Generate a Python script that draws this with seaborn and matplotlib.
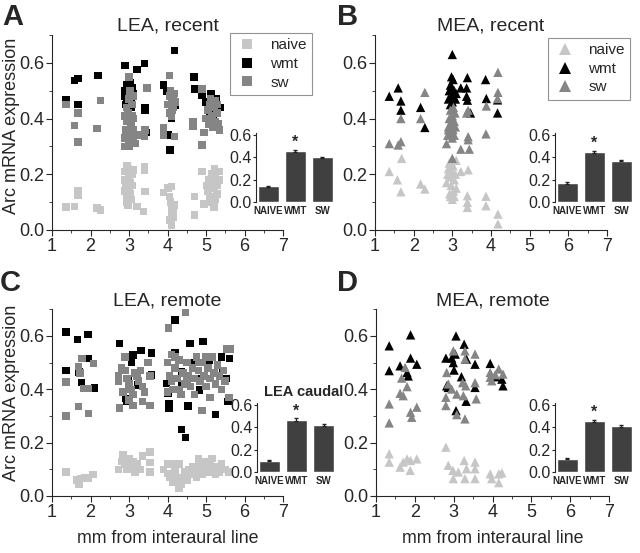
import numpy as np
import pandas as pd
import matplotlib
matplotlib.use('Agg')
import matplotlib.pyplot as plt
import seaborn as sns
from matplotlib.ticker import MultipleLocator

# ---- panel A: LEA, recent (squares) ----
a_naive_x = [1.36, 1.58, 1.67, 1.67, 2.17, 2.26, 2.88, 2.9, 2.92, 2.9, 2.93, 2.95, 2.98, 3.0, 3.02, 3.0, 3.03, 3.05,
             2.97, 3.08, 3.1, 3.07, 2.95, 3.2, 3.38, 3.4, 3.4, 3.42, 3.9, 4.02, 4.1, 4.05, 4.08, 4.12, 4.15, 4.18,
             4.1, 4.05, 4.1, 4.15, 4.7, 4.7, 4.94, 4.9, 5.02, 5.05, 5.08, 5.1, 5.15, 5.18, 5.2, 5.22, 5.25, 5.28,
             5.3, 5.33, 5.12, 5.2, 5.25, 5.35]
a_naive_y = [0.082, 0.084, 0.126, 0.142, 0.078, 0.072, 0.21, 0.18, 0.16, 0.14, 0.12, 0.10, 0.22, 0.19, 0.17, 0.15, 0.13, 0.11,
             0.09, 0.20, 0.216, 0.16, 0.23, 0.084, 0.066, 0.228, 0.214, 0.138, 0.134, 0.15, 0.156, 0.12, 0.10, 0.08, 0.065, 0.09,
             0.05, 0.036, 0.018, 0.045, 0.054, 0.12, 0.094, 0.21, 0.16, 0.14, 0.18, 0.12, 0.20, 0.17, 0.15, 0.22, 0.19, 0.13,
             0.16, 0.21, 0.10, 0.082, 0.11, 0.18]
a_wmt_x = [1.36, 1.58, 1.67, 1.67, 2.19, 2.9, 3.2, 3.4, 2.88, 2.9, 2.93, 2.95, 2.97, 3.0, 3.02, 3.05, 3.08, 3.1, 3.05, 2.92,
           3.42, 3.42, 3.45, 3.9, 3.98, 4.18, 4.1, 4.2, 4.1, 4.03, 4.06, 4.68, 4.7, 4.9, 5.13, 5.27, 5.37, 5.19, 5.0, 5.1]
a_wmt_y = [0.468, 0.537, 0.544, 0.45, 0.555, 0.59, 0.576, 0.598, 0.50, 0.48, 0.52, 0.46, 0.43, 0.50, 0.53, 0.47, 0.51, 0.49, 0.44, 0.45,
           0.44, 0.43, 0.35, 0.52, 0.50, 0.645, 0.49, 0.447, 0.40, 0.342, 0.288, 0.55, 0.507, 0.484, 0.49, 0.47, 0.44, 0.40, 0.46, 0.42]
a_sw_x = [1.36, 1.67, 1.58, 1.67, 2.26, 2.17, 3.0, 3.46, 3.42, 3.4, 3.2, 2.88, 2.9, 2.92, 2.95, 2.97, 3.0, 3.02, 3.05, 3.07,
          3.08, 3.1, 2.9, 2.93, 3.0, 3.03, 3.12, 3.15, 3.0, 3.05, 3.1, 2.95, 3.12, 3.3, 4.05, 3.9, 3.9, 4.18, 4.0, 4.05,
          4.08, 4.1, 4.12, 4.15, 4.18, 4.05, 4.1, 4.15, 4.2, 4.66, 4.66, 4.9, 4.9, 4.94, 5.0, 5.05, 5.08, 5.1, 5.15, 5.18,
          5.2, 5.22, 5.25, 5.28, 5.3, 5.32, 5.35, 5.12, 5.25]
a_sw_y = [0.45, 0.42, 0.375, 0.315, 0.465, 0.364, 0.55, 0.51, 0.36, 0.336, 0.34, 0.30, 0.33, 0.36, 0.39, 0.42, 0.32, 0.35, 0.38, 0.41,
          0.45, 0.48, 0.41, 0.44, 0.47, 0.50, 0.33, 0.31, 0.30, 0.33, 0.36, 0.34, 0.40, 0.34, 0.555, 0.366, 0.34, 0.336, 0.45, 0.48,
          0.50, 0.46, 0.43, 0.47, 0.49, 0.42, 0.41, 0.44, 0.46, 0.39, 0.372, 0.506, 0.306, 0.35, 0.40, 0.43, 0.38, 0.45, 0.41, 0.37,
          0.44, 0.46, 0.39, 0.42, 0.45, 0.38, 0.36, 0.47, 0.465]

# ---- panel B: MEA, recent (triangles) ----
b_naive_x = [1.37, 1.58, 1.69, 1.67, 2.18, 2.29, 2.85, 2.88, 2.9, 2.92, 2.95, 2.97, 3.0, 3.02, 3.05, 3.08, 3.1, 2.93,
             2.95, 3.0, 3.05, 3.1, 2.98, 3.03, 3.22, 3.41, 3.39, 3.39, 3.39, 3.87, 3.87, 4.18, 4.18]
b_naive_y = [0.21, 0.18, 0.257, 0.137, 0.165, 0.147, 0.17, 0.20, 0.22, 0.24, 0.19, 0.16, 0.21, 0.23, 0.18, 0.20, 0.15, 0.13,
             0.12, 0.11, 0.12, 0.25, 0.25, 0.14, 0.21, 0.216, 0.123, 0.099, 0.081, 0.121, 0.087, 0.057, 0.022]
b_wmt_x = [1.37, 1.6, 1.67, 1.67, 2.18, 2.29, 3.0, 2.98, 2.9, 2.92, 2.95, 2.97, 3.0, 3.02, 3.05, 3.08, 3.0, 2.95, 3.1,
           3.22, 3.37, 3.39, 3.37, 3.39, 3.47, 3.86, 3.88, 4.17, 4.17]
b_wmt_y = [0.48, 0.51, 0.463, 0.43, 0.44, 0.368, 0.63, 0.55, 0.47, 0.50, 0.52, 0.48, 0.46, 0.54, 0.50, 0.47, 0.51, 0.45, 0.49,
           0.51, 0.51, 0.547, 0.48, 0.466, 0.42, 0.54, 0.472, 0.467, 0.42]
b_sw_x = [1.37, 1.6, 1.67, 1.67, 2.29, 2.18, 3.0, 2.85, 2.88, 2.9, 2.92, 2.95, 2.97, 3.0, 3.02, 3.05, 3.07, 3.0, 2.95,
          3.03, 2.9, 3.08, 2.98, 3.0, 3.05, 3.37, 3.41, 3.41, 3.41, 3.44, 3.22, 3.88, 3.87, 4.18, 4.18, 4.17]
b_sw_y = [0.31, 0.305, 0.317, 0.40, 0.494, 0.40, 0.257, 0.31, 0.34, 0.37, 0.40, 0.35, 0.38, 0.41, 0.36, 0.39, 0.42, 0.33, 0.43,
          0.44, 0.36, 0.37, 0.39, 0.37, 0.34, 0.42, 0.43, 0.335, 0.324, 0.29, 0.29, 0.445, 0.345, 0.566, 0.494, 0.472]

# ---- panel C: LEA, remote (squares) ----
c_naive_x = [1.36, 1.65, 1.7, 1.75, 1.85, 2.07, 1.95, 2.73, 2.8, 2.85, 2.9, 2.95, 3.0, 3.05, 3.1, 3.15, 3.2, 3.3, 3.35,
             3.55, 3.55, 3.55, 3.9, 4.0, 4.05, 4.1, 4.15, 4.2, 4.3, 4.35, 4.4, 4.45, 4.5, 4.55, 4.6, 4.65, 4.7, 4.75,
             4.8, 4.85, 4.9, 4.95, 5.0, 5.05, 5.1, 5.15, 5.2, 5.25, 5.3, 5.35, 5.4, 5.5, 5.6, 4.8, 4.3, 4.0, 4.2]
c_naive_y = [0.09, 0.06, 0.045, 0.065, 0.07, 0.08, 0.065, 0.10, 0.13, 0.155, 0.12, 0.10, 0.14, 0.11, 0.13, 0.09, 0.12, 0.10, 0.15,
             0.165, 0.09, 0.125, 0.10, 0.085, 0.07, 0.12, 0.05, 0.06, 0.03, 0.045, 0.07, 0.09, 0.06, 0.10, 0.08, 0.11, 0.09, 0.07,
             0.12, 0.10, 0.08, 0.13, 0.11, 0.09, 0.12, 0.14, 0.10, 0.08, 0.11, 0.09, 0.12, 0.10, 0.09, 0.14, 0.12, 0.12, 0.09]
c_wmt_x = [1.36, 1.66, 1.94, 1.36, 1.7, 1.94, 1.77, 2.1, 2.75, 3.11, 3.31, 3.58, 3.06, 2.99, 2.92, 3.24, 3.58, 2.93, 3.97,
           4.01, 4.04, 4.04, 4.19, 4.36, 4.36, 4.47, 4.19, 4.58, 4.92, 4.66, 5.09, 4.75, 4.83, 4.53, 5.25, 5.4, 5.44,
           5.61, 5.57, 5.53, 4.36]
c_wmt_y = [0.614, 0.587, 0.606, 0.47, 0.464, 0.516, 0.426, 0.404, 0.572, 0.529, 0.545, 0.535, 0.50, 0.441, 0.366, 0.416, 0.454, 0.354, 0.422,
           0.385, 0.347, 0.329, 0.66, 0.464, 0.25, 0.22, 0.535, 0.572, 0.579, 0.50, 0.51, 0.441, 0.397, 0.337, 0.306, 0.52, 0.47,
           0.516, 0.354, 0.441, 0.422]
c_sw_x = [1.78, 1.69, 1.73, 1.82, 1.95, 2.08, 1.69, 1.95, 1.36, 1.36, 2.73, 2.73, 2.8, 2.9, 2.95, 3.0, 3.05, 3.1, 3.15,
          3.2, 3.25, 3.3, 3.35, 3.4, 3.0, 2.85, 3.1, 3.55, 3.35, 2.75, 3.55, 3.5, 2.9, 4.0, 4.05, 4.1, 4.15, 4.2, 4.25,
          4.3, 4.35, 4.4, 4.45, 4.5, 4.55, 4.6, 4.65, 4.7, 4.75, 4.8, 4.85, 4.9, 4.95, 5.0, 5.05, 5.1, 5.15, 5.2, 5.25,
          5.3, 5.35, 5.4, 5.45, 5.5, 5.55, 5.6, 5.62, 4.0, 4.1, 4.3, 4.5, 4.8, 5.0, 4.7, 5.1, 4.9, 4.2, 4.03, 4.47]
c_sw_y = [0.515, 0.485, 0.46, 0.403, 0.403, 0.497, 0.335, 0.31, 0.428, 0.30, 0.45, 0.43, 0.48, 0.47, 0.44, 0.42, 0.40, 0.38, 0.46,
          0.45, 0.43, 0.47, 0.41, 0.39, 0.36, 0.39, 0.34, 0.34, 0.355, 0.33, 0.45, 0.50, 0.52, 0.50, 0.45, 0.53, 0.40, 0.48, 0.44,
          0.51, 0.38, 0.46, 0.42, 0.50, 0.45, 0.41, 0.48, 0.44, 0.52, 0.47, 0.43, 0.50, 0.45, 0.41, 0.48, 0.44, 0.52, 0.46, 0.42,
          0.49, 0.45, 0.40, 0.47, 0.43, 0.55, 0.37, 0.55, 0.39, 0.43, 0.40, 0.43, 0.50, 0.52, 0.38, 0.37, 0.32, 0.52, 0.63, 0.69]

# ---- panel D: MEA, remote (triangles) ----
d_naive_x = [1.34, 1.34, 1.62, 1.7, 1.8, 1.88, 2.05, 1.89, 2.8, 2.86, 2.98, 2.99, 3.12, 3.27, 3.29, 3.33, 3.55, 3.55,
             3.55, 3.94, 3.98, 4.16, 4.24, 4.16]
d_naive_y = [0.158, 0.127, 0.108, 0.127, 0.139, 0.096, 0.139, 0.133, 0.183, 0.115, 0.096, 0.065, 0.09, 0.133, 0.065, 0.102, 0.127, 0.102,
             0.065, 0.083, 0.065, 0.083, 0.087, 0.05]
d_wmt_x = [1.34, 1.34, 1.89, 1.89, 2.05, 1.62, 1.8, 1.83, 3.06, 3.27, 2.8, 2.95, 3.04, 2.99, 3.01, 3.33, 3.2, 2.82, 2.86,
           3.55, 3.55, 3.32, 3.06, 3.94, 4.07, 4.27, 4.24]
d_wmt_y = [0.563, 0.47, 0.604, 0.517, 0.494, 0.488, 0.463, 0.45, 0.60, 0.569, 0.517, 0.517, 0.532, 0.50, 0.472, 0.513, 0.447, 0.413, 0.407,
           0.494, 0.407, 0.355, 0.32, 0.497, 0.447, 0.413, 0.438]
d_sw_x = [1.34, 1.34, 1.66, 1.75, 1.62, 1.8, 1.7, 1.89, 1.92, 2.05, 2.82, 2.8, 2.8, 2.86, 2.95, 3.08, 2.99, 3.29, 3.29,
          3.23, 3.31, 3.25, 3.29, 3.08, 3.55, 3.55, 3.58, 3.94, 3.94, 4.16, 4.27, 4.07, 3.98]
d_sw_y = [0.345, 0.274, 0.442, 0.482, 0.385, 0.41, 0.376, 0.314, 0.295, 0.333, 0.463, 0.37, 0.339, 0.42, 0.401, 0.382, 0.544, 0.544, 0.513,
          0.425, 0.413, 0.376, 0.289, 0.305, 0.532, 0.425, 0.364, 0.445, 0.463, 0.476, 0.457, 0.455, 0.432]

# ---- inset bar charts ----
bar_labels = ['NAIVE', 'WMT', 'SW']
a_bars = [0.14, 0.46, 0.40]
b_bars = [0.17, 0.45, 0.37]
c_bars = [0.10, 0.47, 0.42]
d_bars = [0.12, 0.46, 0.41]
a_err = [0.006, 0.010, 0.006]
b_err = [0.006, 0.010, 0.005]
c_err = [0.005, 0.009, 0.006]
d_err = [0.005, 0.010, 0.007]

groups = ['naive', 'wmt', 'sw']
palette = {'naive': '#c6c6c6', 'wmt': '#000000', 'sw': '#858585'}
bar_color = '#404040'

sns.set_style('ticks')
plt.rcParams['font.family'] = ['Liberation Sans', 'DejaVu Sans']


def make_frame(nx, ny, wx, wy, sx, sy):
    parts = []
    for g, xs, ys in zip(groups, [nx, wx, sx], [ny, wy, sy]):
        parts.append(pd.DataFrame({'mm': xs, 'arc': ys, 'group': g}))
    return pd.concat(parts, ignore_index=True)


def scatter_panel(ax, df, marker, size, title, legend, leg_anchor=None):
    sns.scatterplot(data=df, x='mm', y='arc', hue='group', hue_order=groups, palette=palette,
                    marker=marker, s=size, linewidth=0, ax=ax, legend=legend)
    ax.set_xlim(1, 7)
    ax.set_ylim(0, 0.7)
    ax.xaxis.set_major_locator(MultipleLocator(1))
    ax.xaxis.set_minor_locator(MultipleLocator(0.5))
    ax.yaxis.set_major_locator(MultipleLocator(0.2))
    ax.yaxis.set_minor_locator(MultipleLocator(0.1))
    ax.yaxis.set_major_formatter(matplotlib.ticker.FormatStrFormatter('%.1f'))
    ax.tick_params(which='major', direction='out', length=4, labelsize=13, pad=1.5)
    ax.tick_params(which='minor', direction='out', length=2.5)
    ax.set_xlabel('')
    ax.set_ylabel('')
    ax.set_title(title, fontsize=14, pad=3)
    sns.despine(ax=ax)
    if legend:
        sns.move_legend(ax, 'upper right', bbox_to_anchor=leg_anchor, title=None, frameon=True,
                        fontsize=11, fancybox=False, edgecolor='#777777', borderpad=0.35,
                        borderaxespad=0, labelspacing=0.3, handletextpad=0.7, handlelength=1.6,
                        markerscale=1.2)
        ax.get_legend().get_frame().set_linewidth(0.8)


def inset_bars(rect, vals, errs, caption=None):
    ins = fig.add_axes(rect)
    ins.patch.set_alpha(0)
    sns.barplot(x=bar_labels, y=vals, color=bar_color, saturation=1, width=0.8, ax=ins, errorbar=None)
    ins.errorbar(range(3), vals, yerr=errs, fmt='none', ecolor='#222222', elinewidth=0.8, capsize=1.2)
    ins.text(1, vals[1] + 0.01, '*', ha='center', va='bottom', fontsize=11.5, fontweight='bold')
    ins.set_xlim(-0.46, 2.5)
    ins.set_ylim(0, 0.62)
    ins.set_yticks([0.0, 0.2, 0.4, 0.6])
    ins.yaxis.set_major_formatter(matplotlib.ticker.FormatStrFormatter('%.1f'))
    ins.tick_params(axis='y', direction='out', length=2, labelsize=11.5, pad=1)
    ins.tick_params(axis='x', length=0, labelsize=7, pad=3)
    for lab in ins.get_xticklabels():
        lab.set_fontweight('bold')
    sns.despine(ax=ins, bottom=True)
    if caption:
        ins.text(0.09, 1.15, caption, transform=ins.transAxes, ha='left', va='center',
                 fontsize=10.5, fontweight='bold')
    return ins


fig = plt.figure(figsize=(6.4, 5.53), dpi=100)
ax_a = fig.add_axes([0.0813, 0.5841, 0.3609, 0.3526])
ax_b = fig.add_axes([0.5859, 0.5841, 0.3625, 0.3526])
ax_c = fig.add_axes([0.0813, 0.1031, 0.3609, 0.3376])
ax_d = fig.add_axes([0.5875, 0.1031, 0.3641, 0.3376])

scatter_panel(ax_a, make_frame(a_naive_x, a_naive_y, a_wmt_x, a_wmt_y, a_sw_x, a_sw_y), 's', 30,
              'LEA, recent', True, (1.126, 1.01))
scatter_panel(ax_b, make_frame(b_naive_x, b_naive_y, b_wmt_x, b_wmt_y, b_sw_x, b_sw_y), '^', 45,
              'MEA, recent', True, (1.099, 0.985))
scatter_panel(ax_c, make_frame(c_naive_x, c_naive_y, c_wmt_x, c_wmt_y, c_sw_x, c_sw_y), 's', 30,
              'LEA, remote', False)
scatter_panel(ax_d, make_frame(d_naive_x, d_naive_y, d_wmt_x, d_wmt_y, d_sw_x, d_sw_y), '^', 45,
              'MEA, remote', False)

ax_a.set_ylabel('Arc mRNA expression', fontsize=13)
ax_a.yaxis.set_label_coords(-0.137, 0.533)
ax_c.set_ylabel('Arc mRNA expression', fontsize=13)
ax_c.yaxis.set_label_coords(-0.137, 0.55)
ax_c.set_xlabel('mm from interaural line', fontsize=12.8, labelpad=7)
ax_d.set_xlabel('mm from interaural line', fontsize=12.8, labelpad=7)

inset_bars([0.4, 0.6347, 0.125, 0.1252], a_bars, a_err)
inset_bars([0.8672, 0.6347, 0.125, 0.1252], b_bars, b_err)
inset_bars([0.4016, 0.1465, 0.125, 0.1252], c_bars, c_err, caption='LEA caudal')
inset_bars([0.8672, 0.1465, 0.125, 0.1252], d_bars, d_err)

for letter, x, y in [('A', 0.003, 0.995), ('B', 0.526, 0.995), ('C', 0.0, 0.513), ('D', 0.527, 0.513)]:
    fig.text(x, y, letter, fontsize=21, fontweight='bold', ha='left', va='top')

fig.savefig('out.png', dpi=100)
